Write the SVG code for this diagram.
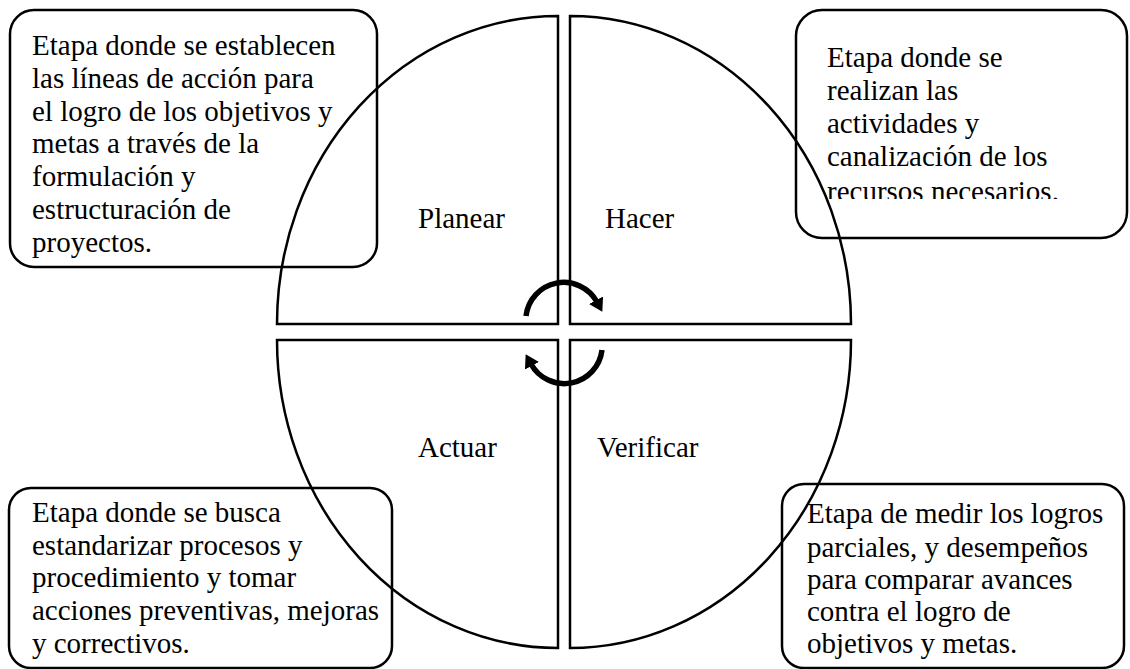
<svg xmlns="http://www.w3.org/2000/svg" width="1130" height="669" viewBox="0 0 1130 669">
<style>
.q{fill:none;stroke:#000;stroke-width:2.5}
.box{fill:none;stroke:#000;stroke-width:2.5}
.t{font-family:"Liberation Serif","Times New Roman",serif;font-size:29px;fill:#000}
.cyc{fill:none;stroke:#000;stroke-width:5.5}
</style>
<defs>
<marker id="ah" markerUnits="userSpaceOnUse" markerWidth="18" markerHeight="18" refX="2" refY="9" orient="auto">
<path d="M0,1 L13,9 L0,17 Z" fill="#000"/>
</marker>
<clipPath id="clipTR"><rect x="796" y="10" width="331" height="189"/></clipPath>
</defs>
<rect width="1130" height="669" fill="#fff"/>

<g id="planear">
<path class="q" d="M558,16 A281,308 0 0 0 277,324 L558,324 Z"/>
<text class="t" x="418" y="228">Planear</text>
</g>
<g id="hacer">
<path class="q" d="M570,16 A281,308 0 0 1 851,324 L570,324 Z"/>
<text class="t" x="605" y="228">Hacer</text>
</g>
<g id="actuar">
<path class="q" d="M558,648 A281,308 0 0 1 277,340 L558,340 Z"/>
<text class="t" x="418" y="457">Actuar</text>
</g>
<g id="verificar">
<path class="q" d="M570,648 A281,308 0 0 0 851,340 L570,340 Z"/>
<text class="t" x="597" y="457">Verificar</text>
</g>

<g id="box-planear">
<rect class="box" x="10" y="10" width="367" height="257" rx="24"/>
<text class="t" x="32" y="55">Etapa donde se establecen</text>
<text class="t" x="32" y="88">las líneas de acción para</text>
<text class="t" x="32" y="121">el logro de los objetivos y</text>
<text class="t" x="32" y="153">metas a través de la</text>
<text class="t" x="32" y="186">formulación y</text>
<text class="t" x="32" y="219">estructuración de</text>
<text class="t" x="32" y="252">proyectos.</text>
</g>
<g id="box-hacer">
<rect class="box" x="796" y="10" width="331" height="228" rx="26"/>
<g clip-path="url(#clipTR)">
<text class="t" x="827" y="67">Etapa donde se</text>
<text class="t" x="827" y="100">realizan las</text>
<text class="t" x="827" y="133">actividades y</text>
<text class="t" x="827" y="166">canalización de los</text>
<text class="t" x="827" y="201">recursos necesarios.</text>
</g>
</g>
<g id="box-actuar">
<rect class="box" x="9" y="488" width="383" height="180" rx="22"/>
<text class="t" x="32" y="522">Etapa donde se busca</text>
<text class="t" x="32" y="555">estandarizar procesos y</text>
<text class="t" x="32" y="587">procedimiento y tomar</text>
<text class="t" x="32" y="620">acciones preventivas, mejoras</text>
<text class="t" x="32" y="653">y correctivos.</text>
</g>
<g id="box-verificar">
<rect class="box" x="782" y="484" width="342" height="184" rx="22"/>
<text class="t" x="807" y="523">Etapa de medir los logros</text>
<text class="t" x="807" y="557">parciales, y desempeños</text>
<text class="t" x="807" y="589">para comparar avances</text>
<text class="t" x="807" y="621">contra el logro de</text>
<text class="t" x="807" y="653">objetivos y metas.</text>
</g>

<g id="connectors">
<path class="cyc" d="M526,316 A38,38 0 0 1 597,302" marker-end="url(#ah)"/>
<path class="cyc" d="M602,350 A38,38 0 0 1 531,364" marker-end="url(#ah)"/>
</g>
</svg>
